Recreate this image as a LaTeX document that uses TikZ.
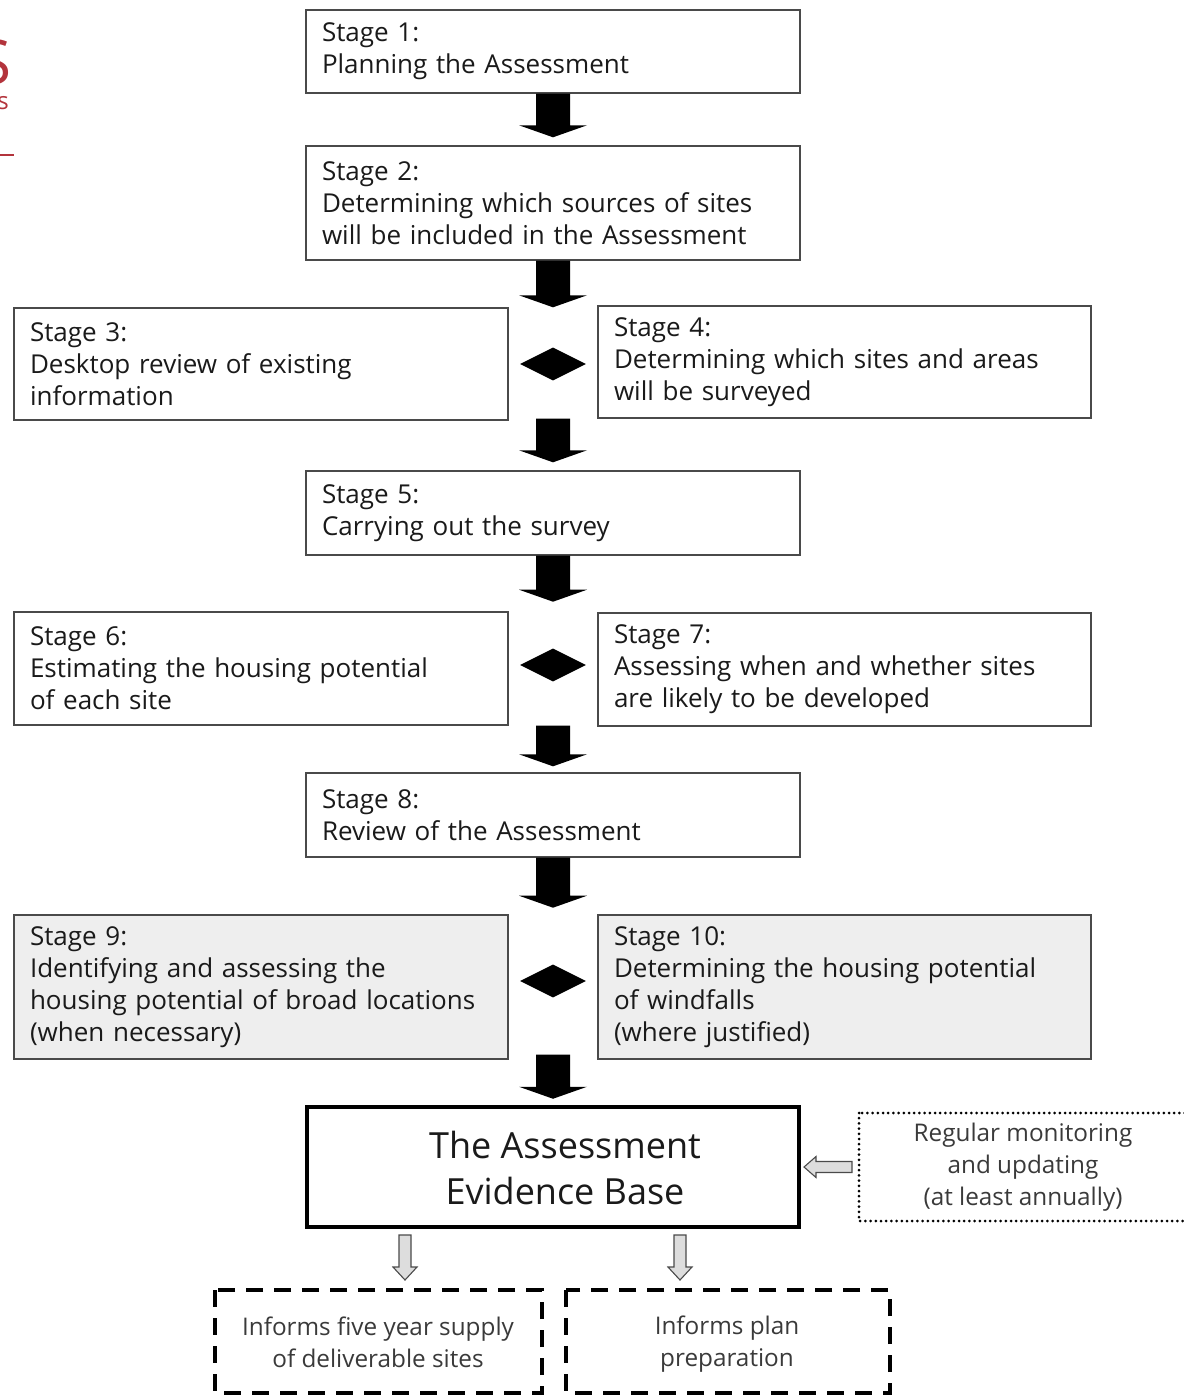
\documentclass[tikz,border=0pt]{standalone}
\usepackage{fontspec}
\setmainfont{Open Sans}
\usetikzlibrary{calc,shapes.geometric}
\definecolor{boxline}{HTML}{4A4A4A}
\definecolor{txt}{HTML}{1A1A1A}
\definecolor{lighttxt}{HTML}{3A3A3A}
\definecolor{boxgray}{HTML}{EEEEEE}
\definecolor{arrgray}{HTML}{DDDDDD}
\definecolor{logored}{HTML}{B3343C}
\newcommand\blockarrow[2]{%
  \fill[black] let \p1=(#1), \p2=(#2) in
    (\x1-17pt,\y1) -- (\x1-17pt,\y2+12pt) -- (\x1-34pt,\y2+12pt) -- (\x1,\y2)
    -- (\x1+34pt,\y2+12pt) -- (\x1+17pt,\y2+12pt) -- (\x1+17pt,\y1) -- cycle;}
\newcommand\hollowdown[2]{%
  \filldraw[fill=arrgray,draw=boxline,line width=1.1pt,line join=miter] let \p1=(#1), \p2=(#2) in
    (\x1-6pt,\y1) -- (\x1-6pt,\y2+13pt) -- (\x1-12pt,\y2+13pt) -- (\x1,\y2)
    -- (\x1+12pt,\y2+13pt) -- (\x1+6pt,\y2+13pt) -- (\x1+6pt,\y1) -- cycle;}
\newcommand\hollowleft[2]{%
  \filldraw[fill=arrgray,draw=boxline,line width=1.1pt,line join=miter] let \p1=(#1), \p2=(#2) in
    (\x1,\y1-5.5pt) -- (\x2+12pt,\y1-5.5pt) -- (\x2+12pt,\y1-10.5pt) -- (\x2,\y1)
    -- (\x2+12pt,\y1+10.5pt) -- (\x2+12pt,\y1+5.5pt) -- (\x1,\y1+5.5pt) -- cycle;}
\tikzset{
  stagebox/.style={draw=boxline, line width=1.4pt, align=left, inner xsep=16pt, inner ysep=0pt,
    text=txt, font=\fontsize{26}{32}\selectfont},
  greybox/.style={stagebox, fill=boxgray},
  bigbox/.style={draw=black, line width=4.5pt, inner sep=0pt},
  bigtext/.style={align=center, inner sep=0pt, text=txt, font=\fontsize{36}{46}\selectfont},
  dotbox/.style={draw=black, line width=3pt, line cap=round, dash pattern=on 0pt off 5.2pt},
  dashbox/.style={draw=black, line width=3.2pt, dash pattern=on 17pt off 11pt},
  lighttext/.style={align=center, text=lighttxt, font=\fontsize{24.3}{32}\selectfont, inner sep=0pt},
  blackdiamond/.style={diamond, fill=black, minimum width=66pt, minimum height=33pt, inner sep=0pt},
  logotext/.style={inner sep=0pt, text depth=0pt, text=logored}
}
\begin{document}
\begin{tikzpicture}[x=1pt,y=-1pt]
\useasboundingbox (0,0) rectangle (1183,1396);
\fill[white] (0,0) rectangle (1183,1396);

% partial logo at the left edge
\node[logotext, anchor=south east, font=\fontsize{62}{62}\selectfont] (logoS) at (12,85) {S};
\node[logotext, anchor=south east, font=\fontsize{24}{24}\selectfont] (logos) at (9,110) {s};
\draw[logored, line width=2.5pt] (0,155) -- (14,155);

% stage boxes
\node[stagebox, text width=462pt, minimum width=494pt, minimum height=83pt] (s1) at (553,51.5)
  {Stage 1:\\Planning the Assessment};
\node[stagebox, text width=462pt, minimum width=494pt, minimum height=114pt] (s2) at (553,203)
  {Stage 2:\\Determining which sources of sites\\will be included in the Assessment};
\node[stagebox, text width=462pt, minimum width=494pt, minimum height=112pt] (s3) at (261,364)
  {Stage 3:\\Desktop review of existing\\information};
\node[stagebox, text width=461pt, minimum width=493pt, minimum height=112pt] (s4) at (844.5,362)
  {Stage 4:\\Determining which sites and areas\\will be surveyed};
\node[stagebox, text width=462pt, minimum width=494pt, minimum height=84pt] (s5) at (553,513)
  {Stage 5:\\Carrying out the survey};
\node[stagebox, text width=462pt, minimum width=494pt, minimum height=113pt] (s6) at (261,668.5)
  {Stage 6:\\Estimating the housing potential\\of each site};
\node[stagebox, text width=461pt, minimum width=493pt, minimum height=113pt] (s7) at (844.5,669.5)
  {Stage 7:\\Assessing when and whether sites\\are likely to be developed};
\node[stagebox, text width=462pt, minimum width=494pt, minimum height=84pt] (s8) at (553,815)
  {Stage 8:\\Review of the Assessment};
\node[greybox, text width=462pt, minimum width=494pt, minimum height=144pt] (s9) at (261,987)
  {Stage 9:\\Identifying and assessing the\\housing potential of broad locations\\(when necessary)};
\node[greybox, text width=461pt, minimum width=493pt, minimum height=144pt] (s10) at (844.5,987)
  {Stage 10:\\Determining the housing potential\\of windfalls\\(where justified)};

% evidence base and outputs
\node[bigbox, minimum width=492pt, minimum height=120pt] (ev) at (553,1167) {};
\node[bigtext] (evt) at (565,1168) {The Assessment\\Evidence Base};
\path[dotbox] (859,1113) rectangle (1192,1221);
\node[lighttext] (mon) at (1023,1167) {Regular monitoring\\and updating\\(at least annually)};
\path[dashbox] (215,1290) rectangle (542,1393);
\path[dashbox] (566,1290) rectangle (890,1393);
\node[lighttext] (five) at (378,1342) {Informs five year supply\\of deliverable sites};
\node[lighttext] (plan) at (727,1342) {Informs plan\strut\\preparation};

% diamonds
\node[blackdiamond] (d1) at (553,364) {};
\node[blackdiamond] (d2) at (553,665) {};
\node[blackdiamond] (d3) at (553,981) {};

% block arrows
\coordinate (a1t) at (s1.south);
\coordinate (a1b) at ($(s2.north)+(0,-8)$);
\coordinate (a2t) at (s2.south);
\coordinate (a2b) at (s2.south |- s3.north);
\coordinate (a3t) at (s5.north |- s4.south);
\coordinate (a3b) at ($(s5.north)+(0,-8)$);
\coordinate (a4t) at (s5.south);
\coordinate (a4b) at ($(s5.south)+(0,46)$);
\coordinate (a5t) at (s8.north |- s6.south);
\coordinate (a5b) at ($(s8.north)+(0,-6)$);
\coordinate (a6t) at (s8.south);
\coordinate (a6b) at ($(s8.south)+(0,50)$);
\coordinate (a7t) at ($(s8.south |- s9.south)+(0,-5)$);
\coordinate (a7b) at ($(ev.north)+(0,-6)$);
\blockarrow{a1t}{a1b}
\blockarrow{a2t}{a2b}
\blockarrow{a3t}{a3b}
\blockarrow{a4t}{a4b}
\blockarrow{a5t}{a5b}
\blockarrow{a6t}{a6b}
\blockarrow{a7t}{a7b}

% hollow arrows
\coordinate (hlt) at (852,1167);
\coordinate (hlb) at (804,1167);
\hollowleft{hlt}{hlb}
\coordinate (h1t) at (405,1235);
\coordinate (h1b) at (405,1280);
\coordinate (h2t) at (680,1235);
\coordinate (h2b) at (680,1280);
\hollowdown{h1t}{h1b}
\hollowdown{h2t}{h2b}
\end{tikzpicture}
\end{document}
